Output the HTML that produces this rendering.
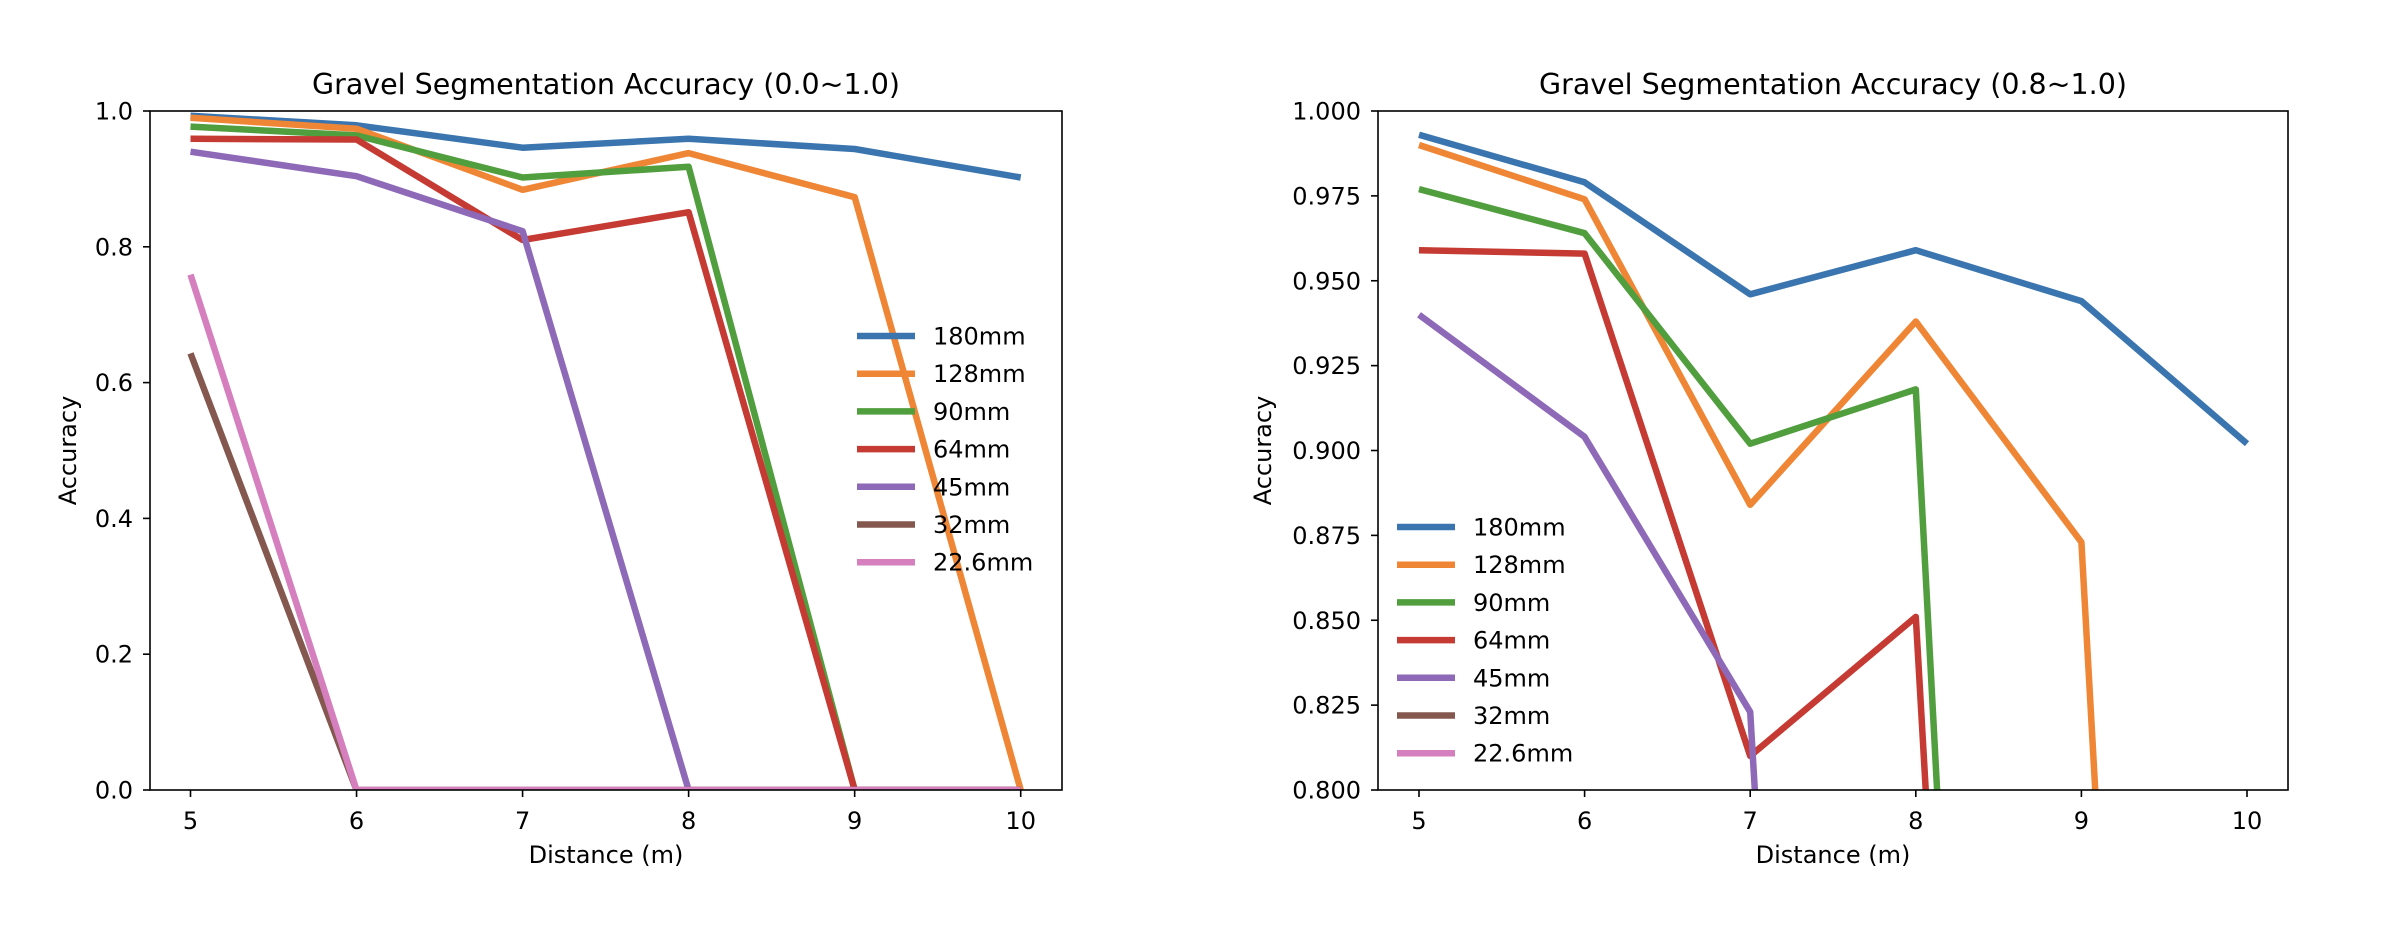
<!DOCTYPE html>
<html><head><meta charset="utf-8"><style>
html,body{margin:0;padding:0;background:#fff;width:2390px;height:938px;overflow:hidden;}
svg{display:block;font-family:"DejaVu Sans","Liberation Sans",sans-serif;}
</style></head><body>
<svg id="fig" width="2390" height="938" viewBox="0 0 2390 938" xmlns="http://www.w3.org/2000/svg"></svg>
<script>
const distances = [5, 6, 7, 8, 9, 10];
const seriesNames = ["180mm", "128mm", "90mm", "64mm", "45mm", "32mm", "22.6mm"];
const s180 = [0.993, 0.979, 0.946, 0.959, 0.944, 0.902];
const s128 = [0.990, 0.974, 0.884, 0.938, 0.873, 0];
const s90 = [0.977, 0.964, 0.902, 0.918, 0, 0];
const s64 = [0.959, 0.958, 0.810, 0.851, 0, 0];
const s45 = [0.940, 0.904, 0.823, 0, 0, 0];
const s32 = [0.643, 0, 0, 0, 0, 0];
const s226 = [0.759, 0, 0, 0, 0, 0];
const xTicks = [5, 6, 7, 8, 9, 10];
const yTicksLeft = [0, 0.2, 0.4, 0.6, 0.8, 1.0];
const yTickLabelsLeft = ["0.0", "0.2", "0.4", "0.6", "0.8", "1.0"];
const yTicksRight = [0.8, 0.825, 0.85, 0.875, 0.9, 0.925, 0.95, 0.975, 1.0];
const yTickLabelsRight = ["0.800", "0.825", "0.850", "0.875", "0.900", "0.925", "0.950", "0.975", "1.000"];
const allSeries = [s180, s128, s90, s64, s45, s32, s226];
const colors = ["#3b75af", "#ef8636", "#519e3e", "#c53a32", "#8d69b8", "#84584e", "#d57fbe"];

const NS = "http://www.w3.org/2000/svg";
const svg = document.getElementById("fig");
function mk(tag, attrs, parent) {
  const e = document.createElementNS(NS, tag);
  for (const k in attrs) e.setAttribute(k, attrs[k]);
  (parent || svg).appendChild(e);
  return e;
}

function drawPanel(p) {
  const g = mk("g", {});
  
  
  const xS = v => p.x5 + (v - 5) * (p.x10 - p.x5) / 5;
  const yS = v => p.bottom - (v - p.ymin) * (p.bottom - p.top) / (p.ymax - p.ymin);
  const cid = p.name + "-clip";
  const defs = mk("defs", {}, g);
  const cp = mk("clipPath", {id: cid}, defs);
  mk("rect", {x: p.left, y: p.top, width: p.right - p.left, height: p.bottom - p.top}, cp);
  const lines = mk("g", {"clip-path": "url(#" + cid + ")"}, g);
  allSeries.forEach((s, i) => {
    const pts = s.map((v, j) => xS(distances[j]).toFixed(1) + "," + yS(v).toFixed(1)).join(" ");
    const pl = mk("polyline", {points: pts, fill: "none", stroke: colors[i], "stroke-width": 6.5, "stroke-linejoin": "round"}, lines);
    
    
  });
  const frame = mk("rect", {x: p.left, y: p.top, width: p.right - p.left, height: p.bottom - p.top, fill: "none", stroke: "#000", "stroke-width": 1.6}, g);
  
  
  xTicks.forEach(t => {
    const x = xS(t);
    mk("line", {x1: x, y1: p.bottom, x2: x, y2: p.bottom + 7, stroke: "#000", "stroke-width": 1.6}, g);
    const tx = mk("text", {x: x, y: p.bottom + 39, "text-anchor": "middle", "font-size": 24, fill: "#000"}, g);
    tx.textContent = t;
    
    
  });
  p.yticks.forEach((t, i) => {
    const y = yS(t);
    mk("line", {x1: p.left - 7, y1: y, x2: p.left, y2: y, stroke: "#000", "stroke-width": 1.6}, g);
    const tx = mk("text", {x: p.left - 17, y: y + 8.5, "text-anchor": "end", "font-size": 24, fill: "#000"}, g);
    tx.textContent = p.ylabels[i];
    
    
  });
  const title = mk("text", {x: (p.left + p.right) / 2, y: 94, "text-anchor": "middle", "font-size": 28.5, fill: "#000"}, g);
  title.textContent = p.title;
  
  
  const xl = mk("text", {x: (p.left + p.right) / 2, y: 863, "text-anchor": "middle", "font-size": 24, fill: "#000"}, g);
  xl.textContent = "Distance (m)";
  
  
  const yl = mk("text", {x: 0, y: 0, "text-anchor": "middle", "font-size": 24, fill: "#000", transform: "translate(" + (p.ylabelX + 8) + "," + ((p.top + p.bottom) / 2) + ") rotate(-90)"}, g);
  yl.textContent = "Accuracy";
  
  
  const lg = mk("g", {}, g);
  
  
  seriesNames.forEach((n, i) => {
    const y = p.legY + i * 37.7;
    const ln = mk("line", {x1: p.legX, y1: y, x2: p.legX + 58, y2: y, stroke: colors[i], "stroke-width": 6.5}, lg);
    
    
    const tx = mk("text", {x: p.legX + 76, y: y + 8.5, "font-size": 24, fill: "#000"}, lg);
    tx.textContent = n;
    
    
  });
}

drawPanel({name: "left-chart", left: 150, right: 1062, top: 111, bottom: 790, x5: 190.5, x10: 1020.7,
  ymin: 0, ymax: 1, yticks: yTicksLeft, ylabels: yTickLabelsLeft,
  title: "Gravel Segmentation Accuracy (0.0~1.0)", ylabelX: 68, legX: 857, legY: 336});
drawPanel({name: "right-chart", left: 1378, right: 2288, top: 111, bottom: 790, x5: 1419, x10: 2247,
  ymin: 0.8, ymax: 1.0, yticks: yTicksRight, ylabels: yTickLabelsRight,
  title: "Gravel Segmentation Accuracy (0.8~1.0)", ylabelX: 1263, legX: 1397, legY: 527});
</script>
</body></html>
